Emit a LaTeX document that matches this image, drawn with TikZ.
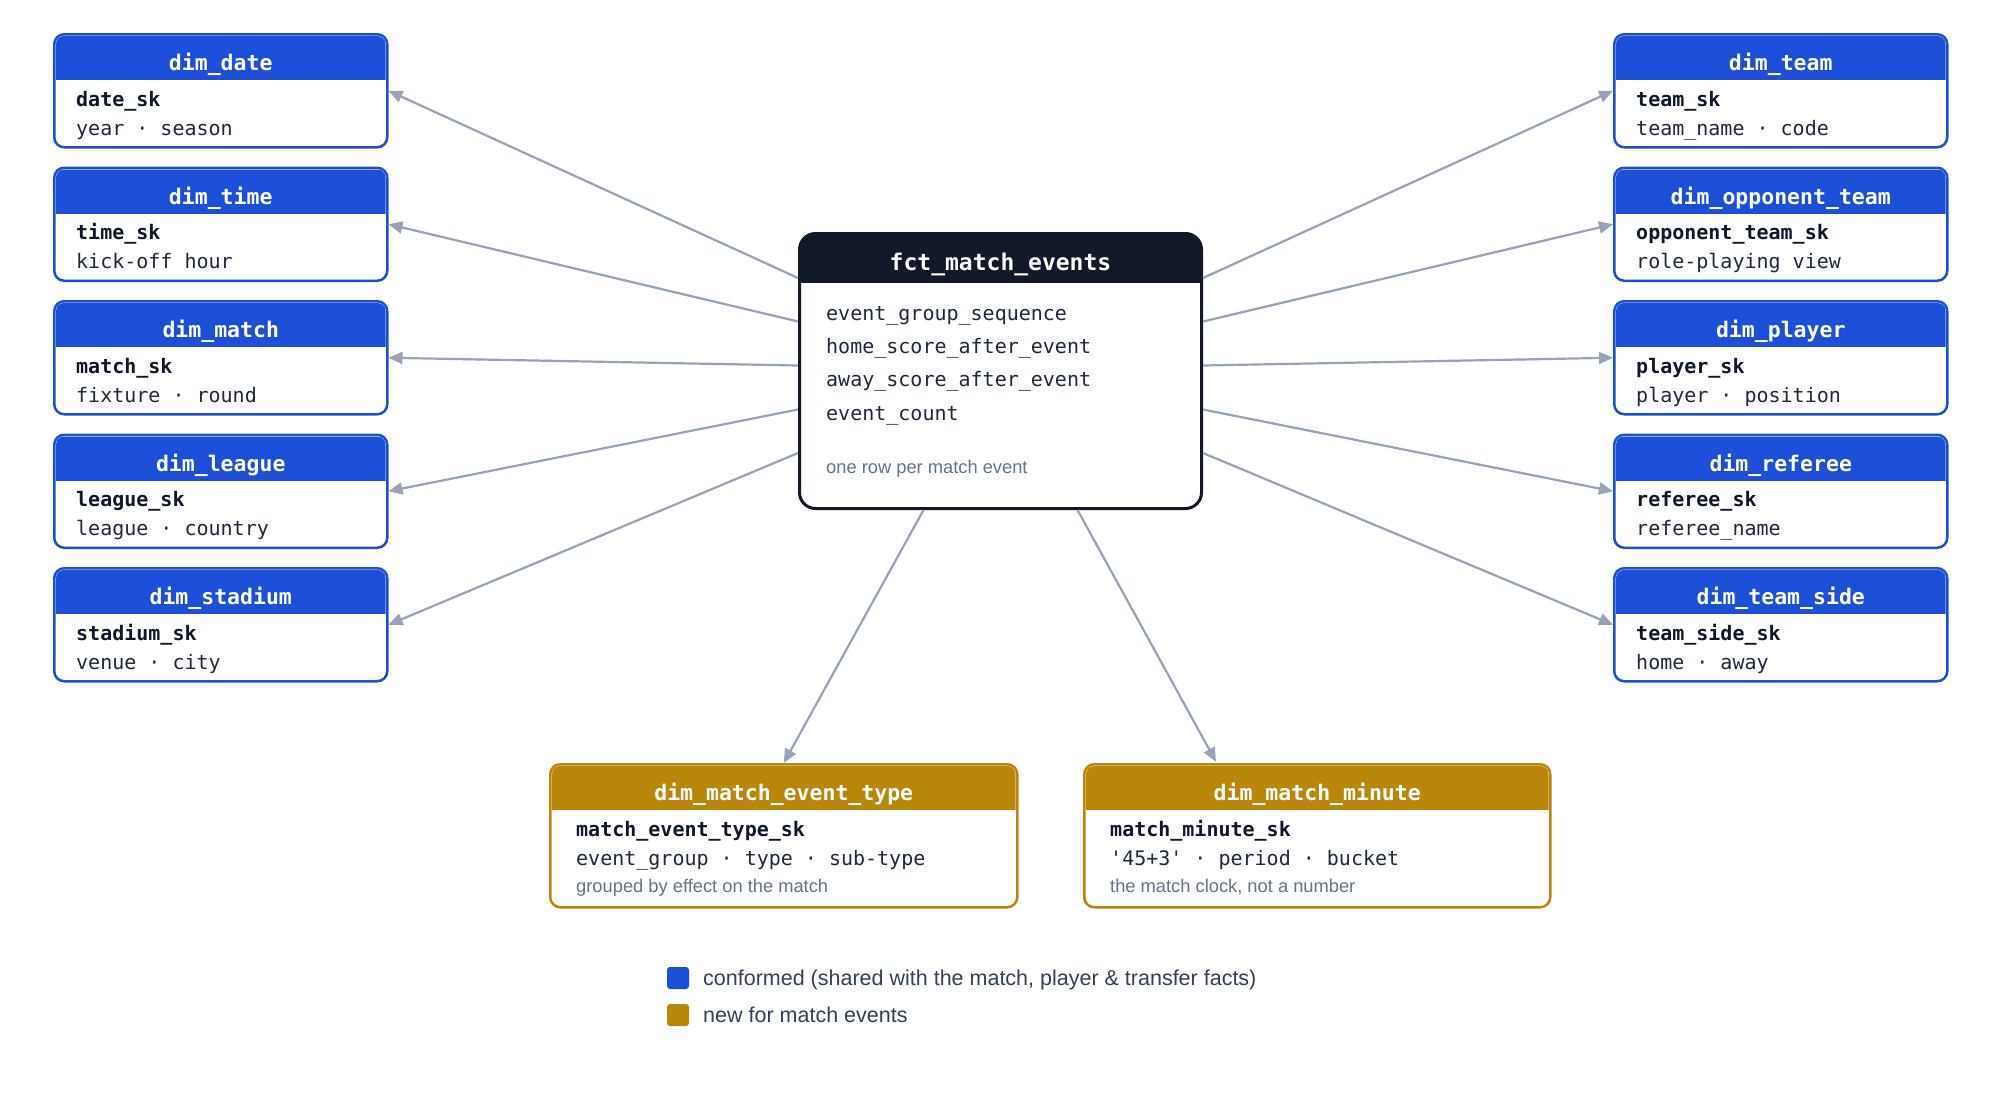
\documentclass[tikz,border=0pt]{standalone}
\usepackage{fontspec}
\setmainfont{Liberation Sans}
\setsansfont{Liberation Sans}
\setmonofont{DejaVu Sans Mono}
\usetikzlibrary{calc,arrows.meta}
\definecolor{conf}{HTML}{1D4ED8}
\definecolor{newc}{HTML}{B8860B}
\definecolor{factc}{HTML}{111827}
\definecolor{arrc}{HTML}{94A3B8}
\definecolor{bodyc}{HTML}{1E293B}
\definecolor{pkc}{HTML}{0F172A}
\definecolor{notec}{HTML}{64748B}
\definecolor{legc}{HTML}{334155}
\tikzset{
  tabbox/.style={rectangle, rounded corners=10pt, line width=2.5pt, fill=white, inner sep=0pt},
  ttl/.style={anchor=base, text=white, font=\fontsize{21.5}{24}\selectfont\ttfamily\bfseries, inner sep=0pt},
  pk/.style={anchor=base west, text=pkc, font=\fontsize{20}{24}\selectfont\ttfamily\bfseries, inner sep=0pt},
  attr/.style={anchor=base west, text=bodyc, font=\fontsize{20}{24}\selectfont\ttfamily, inner sep=0pt},
  note/.style={anchor=base west, text=notec, font=\fontsize{18.3}{22}\selectfont\sffamily, inner sep=0pt},
  legtxt/.style={anchor=base west, text=legc, font=\fontsize{21.5}{24}\selectfont\sffamily, inner sep=0pt},
  legsq/.style={rounded corners=3pt, minimum size=22pt, inner sep=0pt},
  link/.style={draw=arrc, line width=2.2pt, -{Triangle[length=14pt,width=12pt]}},
}
\def\txoff{23}
\newcommand\dimtab[9]{%
  \node[tabbox, draw=#6, minimum width=#4pt, minimum height=#5pt, anchor=north west] (#1) at (#2,#3) {};
  \begin{scope}
    \clip[rounded corners=8pt] ($(#1.north west)+(3,3)$) rectangle ($(#1.south east)+(-3,-3)$);
    \fill[#6] (#1.north west) rectangle ($(#1.north east)+(0,47)$);
  \end{scope}
  \node[ttl] (#1-t) at ($(#1.north)+(0,37.7)$) {#7};
  \node[pk] (#1-k) at ($(#1.north west)+(\txoff,73)$) {#8};
  \node[attr] (#1-a) at ($(#1.north west)+(\txoff,102)$) {#9};
}
\begin{document}
\begin{tikzpicture}[x=1pt,y=-1pt]
\fill[white] (0,0) rectangle (2000,1100);
\useasboundingbox (0,0) rectangle (2000,1100);

% left dimensions
\dimtab{date}{53}{33}{333}{113}{conf}{dim\_date}{date\_sk}{year · season}
\dimtab{time}{53}{166.5}{333}{113}{conf}{dim\_time}{time\_sk}{kick-off hour}
\dimtab{match}{53}{300}{333}{113}{conf}{dim\_match}{match\_sk}{fixture · round}
\dimtab{league}{53}{433.5}{333}{113}{conf}{dim\_league}{league\_sk}{league · country}
\dimtab{stadium}{53}{567}{333}{113}{conf}{dim\_stadium}{stadium\_sk}{venue · city}

% right dimensions
\dimtab{team}{1613}{33}{333}{113}{conf}{dim\_team}{team\_sk}{team\_name · code}
\dimtab{opp}{1613}{166.5}{333}{113}{conf}{dim\_opponent\_team}{opponent\_team\_sk}{role-playing view}
\dimtab{player}{1613}{300}{333}{113}{conf}{dim\_player}{player\_sk}{player · position}
\dimtab{referee}{1613}{433.5}{333}{113}{conf}{dim\_referee}{referee\_sk}{referee\_name}
\dimtab{side}{1613}{567}{333}{113}{conf}{dim\_team\_side}{team\_side\_sk}{home · away}

% bottom dimensions
\def\txoff{27}
\dimtab{met}{549}{763}{467}{143}{newc}{dim\_match\_event\_type}{match\_event\_type\_sk}{event\_group · type · sub-type}
\node[note] (met-n) at ($(met.north west)+(27,129.7)$) {grouped by effect on the match};
\dimtab{mm}{1083}{763}{466}{143}{newc}{dim\_match\_minute}{match\_minute\_sk}{'45+3' · period · bucket}
\node[note] (mm-n) at ($(mm.north west)+(27,129.7)$) {the match clock, not a number};

% fact table
\node[rectangle, rounded corners=16pt, line width=3pt, draw=factc, fill=white, inner sep=0pt,
      minimum width=402pt, minimum height=275pt, anchor=north west] (fct) at (798,232) {};
\begin{scope}
  \clip[rounded corners=14pt] ($(fct.north west)+(1.5,1.5)$) rectangle ($(fct.south east)+(-1.5,-1.5)$);
  \fill[factc] (fct.north west) rectangle ($(fct.north east)+(0,51)$);
\end{scope}
\node[ttl, font=\fontsize{23}{26}\selectfont\ttfamily\bfseries] (fct-t) at ($(fct.north)+(0,38)$) {fct\_match\_events};
\node[attr] (fct-r1) at ($(fct.north west)+(28,88)$) {event\_group\_sequence};
\node[attr] (fct-r2) at ($(fct.north west)+(28,121)$) {home\_score\_after\_event};
\node[attr] (fct-r3) at ($(fct.north west)+(28,154)$) {away\_score\_after\_event};
\node[attr] (fct-r4) at ($(fct.north west)+(28,188)$) {event\_count};
\node[note] (fct-n) at ($(fct.north west)+(28,241.3)$) {one row per match event};

% connector anchors on the fact table
\coordinate (fw1) at ($(fct.north west)+(0,46)$);
\coordinate (fw2) at ($(fct.north west)+(0,89.5)$);
\coordinate (fw3) at ($(fct.north west)+(0,133.5)$);
\coordinate (fw4) at ($(fct.north west)+(0,177.5)$);
\coordinate (fw5) at ($(fct.north west)+(0,221)$);
\coordinate (fe1) at ($(fct.north east)+(0,46)$);
\coordinate (fe2) at ($(fct.north east)+(0,89.5)$);
\coordinate (fe3) at ($(fct.north east)+(0,133.5)$);
\coordinate (fe4) at ($(fct.north east)+(0,177.5)$);
\coordinate (fe5) at ($(fct.north east)+(0,221)$);
\coordinate (fb1) at ($(fct.south)+(-77,0)$);
\coordinate (fb2) at ($(fct.south)+(77,0)$);
\coordinate (mmin) at ($(mm.north west)+(133,-1.25)$);

\draw[link] (fw1) -- (date.east);
\draw[link] (fw2) -- (time.east);
\draw[link] (fw3) -- (match.east);
\draw[link] (fw4) -- (league.east);
\draw[link] (fw5) -- (stadium.east);
\draw[link] (fe1) -- (team.west);
\draw[link] (fe2) -- (opp.west);
\draw[link] (fe3) -- (player.west);
\draw[link] (fe4) -- (referee.west);
\draw[link] (fe5) -- (side.west);
\draw[link] (fb1) -- (met.north);
\draw[link] (fb2) -- (mmin);

% legend
\node[legsq, fill=conf] (lg1) at (678,978) {};
\node[legtxt] (lg1-t) at (703,985.7) {conformed (shared with the match, player \& transfer facts)};
\node[legsq, fill=newc] (lg2) at (678,1015) {};
\node[legtxt] (lg2-t) at (703,1022.7) {new for match events};
\end{tikzpicture}
\end{document}
